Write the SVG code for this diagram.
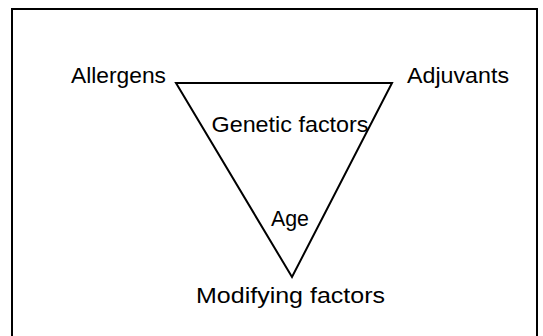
<svg xmlns="http://www.w3.org/2000/svg" width="543" height="336" viewBox="0 0 543 336">
<style>
.t{font-family:"Liberation Sans",Arial,sans-serif;font-size:21.5px;fill:#000}
.ln{fill:none;stroke:#000;stroke-width:2}
</style>
<rect width="543" height="336" fill="#fff"/>
<g id="frame"><path class="ln" d="M12,345 V9 H537 V345"/></g>
<g id="connectors"><polygon class="ln" points="176,83 392,83 292,277" stroke-linejoin="miter"/></g>
<g id="allergens"><text class="t" x="71" y="83" textLength="95" lengthAdjust="spacingAndGlyphs">Allergens</text></g>
<g id="adjuvants"><text class="t" x="407" y="83" textLength="102" lengthAdjust="spacingAndGlyphs">Adjuvants</text></g>
<g id="genetic"><text class="t" x="211.5" y="132" textLength="157" lengthAdjust="spacingAndGlyphs">Genetic factors</text></g>
<g id="age"><text class="t" x="271" y="226" textLength="38" lengthAdjust="spacingAndGlyphs">Age</text></g>
<g id="modifying"><text class="t" x="196" y="303" textLength="189" lengthAdjust="spacingAndGlyphs">Modifying factors</text></g>
</svg>
